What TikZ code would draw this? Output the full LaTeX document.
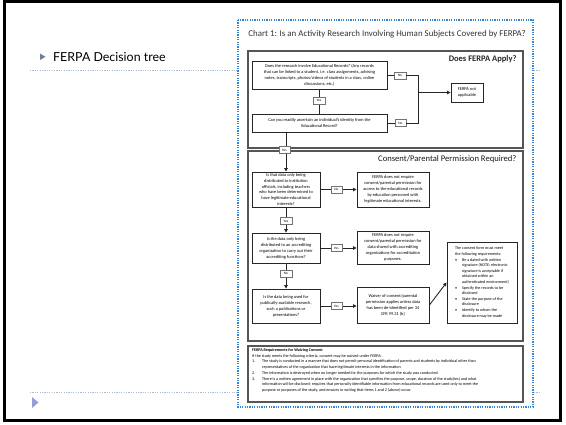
\documentclass[tikz,border=0pt]{standalone}
\usepackage{fontspec}
\setmainfont{Carlito}
\newfontfamily\slidefont{Lato}
\usetikzlibrary{arrows.meta}
\definecolor{dotblue}{RGB}{52,132,214}
\definecolor{guide}{RGB}{172,188,208}
\definecolor{bulletc}{RGB}{110,128,160}
\definecolor{framegray}{RGB}{85,85,85}
\tikzset{
  sect/.style={draw=framegray, line width=1.7pt},
  qbox/.style={draw=black!85, line width=0.9pt, fill=white, align=center, inner sep=0.5pt, font=\fontsize{4.4}{5.9}\selectfont},
  lbl/.style={draw=black!55, line width=0.4pt, fill=white, inner sep=0pt, minimum width=11.5pt, minimum height=6.8pt, font=\fontsize{3.5}{4}\selectfont},
  conn/.style={draw=black!85, line width=0.9pt},
  arr/.style={conn, -{Triangle[length=3.5pt,width=3.5pt]}},
}
\begin{document}
\begin{tikzpicture}[x=1pt,y=-1pt]
\useasboundingbox (0,0) rectangle (566,424);
\fill[white] (0,0) rectangle (566,424);
% slide frame
\draw[black, line width=3pt] (4.5,1.5) rectangle (560,420.5);
% guide lines
\draw[guide, line width=0.7pt, dash pattern=on 1.2pt off 1.2pt] (30,70.5) -- (540,70.5);
\draw[guide, line width=0.7pt, dash pattern=on 1.2pt off 1.2pt] (30,392) -- (540,392);
\fill[bulletc] (40,53.5) -- (45.5,56.8) -- (40,60) -- cycle;
\fill[guide!85!blue] (32,397) -- (38.5,402.5) -- (32,408) -- cycle;
\node[font=\slidefont\fontsize{12.4}{15}\selectfont, anchor=west, inner sep=0pt] (st) at (53,57) {FERPA Decision tree};
% picture frame
\fill[white] (238,20) rectangle (533,407);
\draw[dotblue, line width=1.1pt, dash pattern=on 1.2pt off 1.2pt] (238,20) rectangle (533,407);
\node[font=\fontsize{8.9}{9}\selectfont, text=black!80] (title) at (387,34) {Chart 1: Is an Activity Research Involving Human Subjects Covered by FERPA?};
% sections
\draw[sect] (248,51) rectangle (523,148);
\draw[sect] (248,151) rectangle (523,341);
\draw[sect] (248,346) rectangle (523,402);
\node[font=\bfseries\fontsize{8.5}{9}\selectfont, anchor=east, text=black!85] (h1) at (520,59) {Does FERPA Apply?};
\node[font=\fontsize{8.6}{9}\selectfont, anchor=east, text=black!90] (h2) at (520,159) {Consent/Parental Permission Required?};
% section 1
\node[qbox, minimum width=135pt, minimum height=28pt] (q1) at (319.5,75) {Does the research involve Educational Records? (Any records\\ that can be linked to a student, i.e. class assignments,\ advising\\ notes, transcripts, photos/videos of students in a class, online\\ discussions, etc.)};
\node[qbox, minimum width=135pt, minimum height=18pt] (q2) at (319.5,123) {Can you readily ascertain an individual's identity from the\\ Educational Record?};
\node[qbox, minimum width=32pt, minimum height=19pt] (fna) at (467,92.5) {FERPA not\\ applicable};
\coordinate (j1) at (418,75.5);
\coordinate (j2) at (418,123);
\node[lbl] (no1) at (400,75.5) {No};
\node[lbl] (no2) at (400.5,123) {No};
\draw[conn] (q1.east |- no1) -- (no1) -- (j1) -- (j2) -- (no2) -- (q2.east |- no2);
\draw[arr] (j1 |- fna) -- (fna.west);
\draw[conn] (q1.south -| 319,0) -- (q2.north -| 319,0);
\node[lbl] (yes1) at (319,100.5) {Yes};
% section 2
\node[qbox, minimum width=68pt, minimum height=35pt] (q3) at (286,189.5) {Is that data only being\\ distributed to institution\\ officials, including teachers\\ who have been determined to\\ have legitimate educational\\ interests?};
\node[qbox, minimum width=72pt, minimum height=35pt] (a3) at (393,189.5) {FERPA does not require\\ consent/parental permission for\\ access to the educational records\\ by education personnel with\\ legitimate educational interests.};
\node[qbox, minimum width=68pt, minimum height=30pt] (q4) at (286,248) {Is the data only being\\ distributed to an accrediting\\ organization to carry out their\\ accrediting functions?};
\node[qbox, minimum width=72pt, minimum height=33pt] (a4) at (393,247.5) {FERPA does not require\\ consent/parental permission for\\ data shared with accrediting\\ organizations for accreditation\\ purposes.};
\node[qbox, minimum width=68pt, minimum height=34pt] (q5) at (286,306) {Is the data being used for\\ publically-available research,\\ such a publications or\\ presentations?};
\node[qbox, minimum width=72pt, minimum height=36pt] (a5) at (393,305) {Waiver of consent/parental\\ permission applies unless data\\ has been de-identified per 34\\ CFR 99.31 (b)};
\node[qbox, align=left, minimum width=70pt, minimum height=81pt, font=\fontsize{4.1}{5.6}\selectfont] (cf) at (482,282.5) {The consent form must meet\\ the following requirements:\\
\makebox[7pt][l]{\textbullet}Be a dated with written\\ \hspace*{7pt}signature (NOTE: electronic\\ \hspace*{7pt}signature is acceptable if\\ \hspace*{7pt}obtained within an\\ \hspace*{7pt}authenticated\ environment)\\
\makebox[7pt][l]{\textbullet}Specify the records to be\\ \hspace*{7pt}disclosed\\
\makebox[7pt][l]{\textbullet}State the purpose of the\\ \hspace*{7pt}disclosure\\
\makebox[7pt][l]{\textbullet}Identify to whom the\\ \hspace*{7pt}disclosure may be made};
\coordinate (top2) at (q2.south -| q3.north);
\draw[arr] (top2) -- (q3.north);
\node[lbl] (yes2) at (284.5,150) {Yes};
\draw[arr] (q3.east) -- (a3.west);
\node[lbl] (no3) at (336.5,189.5) {No};
\draw[arr] (q3.south) -- (q4.north);
\node[lbl] (yes3) at (286,221) {Yes};
\draw[arr] (q4.east) -- (a4.west |- q4.east);
\node[lbl] (yes4) at (336.5,248) {Yes};
\draw[arr] (q4.south) -- (q5.north);
\node[lbl] (no4) at (286,273.5) {No};
\draw[arr] (q5.east) -- (a5.west |- q5.east);
\node[lbl] (yes5) at (336.5,306) {Yes};
\draw[arr] (a5.east) -- (cf.west);
% section 3
\node[anchor=north west, align=left, inner sep=0pt, font=\fontsize{4.1}{5.7}\selectfont] (req) at (252,348.5) {\textbf{FERPA Requirements for Waiving Consent}\\
If the study meets the following criteria, consent may be waived under FERPA:\\
\makebox[10pt][l]{1.}The study is conducted in a manner that does not permit personal identification of parents and students by individual other than\\
\hspace*{10pt}representatives of the organization that have legitimate interests in the information\\
\makebox[10pt][l]{2.}The information is destroyed when no longer needed for the purposes for which the study was conducted\\
\makebox[10pt][l]{3.}There is a written agreement in place with the organization that specifies the purpose, scope, duration of the study(ies) and what\\
\hspace*{10pt}information will be disclosed; requires that personally identifiable information from educational records are used only to meet the\\
\hspace*{10pt}purpose or purposes of the study, and ensures in writing that items 1 and 2 (above) occur.};
\end{tikzpicture}
\end{document}
